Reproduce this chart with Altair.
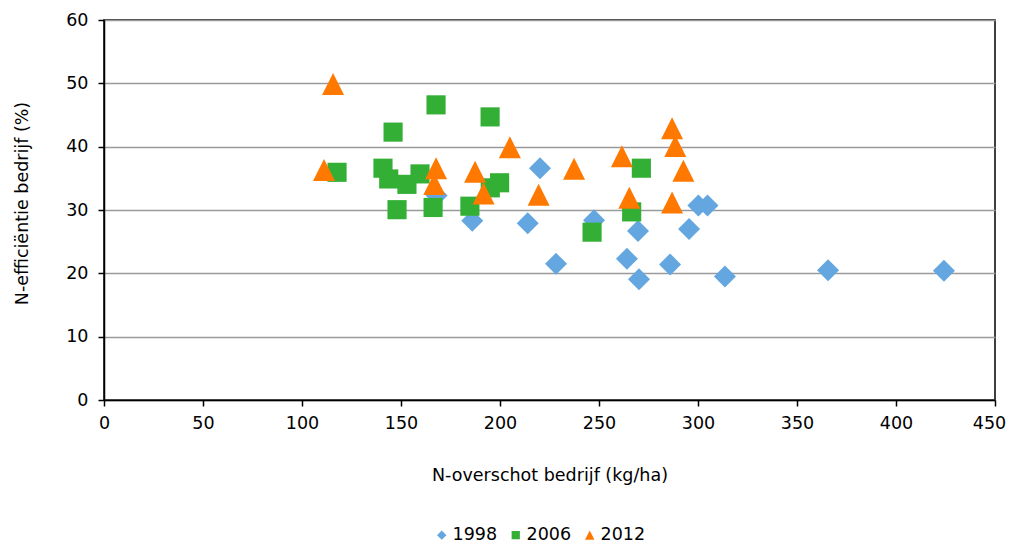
import altair as alt
import pandas as pd

# --- data ---
years = ["1998", "2006", "2012"]

x_1998 = [168.0, 186.0, 220.2, 214.0, 228.3, 247.5, 269.7, 264.1, 270.2, 285.9,
          295.5, 300.2, 304.8, 313.6, 365.7, 424.2]
y_1998 = [32.3, 28.3, 36.6, 27.9, 21.5, 28.4, 26.7, 22.3, 19.05, 21.4,
          27.0, 30.7, 30.7, 19.5, 20.5, 20.4]

x_2006 = [117.7, 146.0, 167.7, 195.0, 140.9, 143.8, 153.0, 159.6, 148.0, 166.2,
          184.8, 195.1, 199.8, 271.4, 266.5, 246.5]
y_2006 = [35.95, 42.3, 46.6, 44.7, 36.6, 34.9, 34.05, 35.7, 30.05, 30.4,
          30.6, 33.5, 34.3, 36.6, 29.7, 26.5]

x_2012 = [115.7, 111.1, 167.7, 166.8, 187.4, 191.7, 205.0, 219.5, 237.4, 261.6,
          265.3, 286.9, 288.5, 292.6, 286.9]
y_2012 = [49.9, 36.3, 36.6, 34.1, 36.05, 32.6, 39.9, 32.4, 36.5, 38.5,
          31.95, 42.9, 40.1, 36.2, 31.2]

x_ticks = [0, 50, 100, 150, 200, 250, 300, 350, 400, 450]
y_ticks = [0, 10, 20, 30, 40, 50, 60]

colors = ["#64A7E0", "#33AF35", "#FF7800"]
shapes = ["diamond", "M-0.87,-0.87L0.87,-0.87L0.87,0.87L-0.87,0.87Z", "M-1,1L1,1L0,-1Z"]

rows = []
for yr, xs, ys in zip(years, [x_1998, x_2006, x_2012], [y_1998, y_2006, y_2012]):
    for a, b in zip(xs, ys):
        rows.append({"jaar": yr, "x": a, "y": b})
df = pd.DataFrame(rows)

FONT = "DejaVu Sans"
FS = 17.5

legend = alt.Legend(
    title=None, orient="none", legendX=329, legendY=506, direction="horizontal",
    labelFontSize=FS, labelFont=FONT, labelColor="#000000",
    symbolSize=90, symbolStrokeWidth=0, labelOffset=2, columnPadding=9,
    symbolOpacity=1,
)

chart = alt.Chart(df).mark_point(filled=True, opacity=1, strokeWidth=0, size=484).encode(
    x=alt.X("x:Q",
            scale=alt.Scale(domain=[0, 450], nice=False, zero=True),
            axis=alt.Axis(title="N-overschot bedrijf (kg/ha)", values=x_ticks, grid=False,
                          labelPadding=8, tickSize=6, labelFlush=False,
                          labelOffset={"condition": {"test": "datum.value == 450", "value": -6},
                                       "value": 0},
                          titleY=75, titleBaseline="middle")),
    y=alt.Y("y:Q",
            scale=alt.Scale(domain=[0, 60], nice=False),
            axis=alt.Axis(title="N-efficiëntie bedrijf (%)", values=y_ticks, grid=True,
                          labelPadding=10, tickSize=6, labelFlush=False,
                          titleX=-82, titleY=183,
                          titleAngle=270, titleBaseline="middle", titleAlign="center")),
    color=alt.Color("jaar:N", scale=alt.Scale(domain=years, range=colors), legend=legend),
    shape=alt.Shape("jaar:N", scale=alt.Scale(domain=years, range=shapes), legend=legend),
).properties(
    width=891, height=380,
    autosize=alt.AutoSizeParams(type="none"),
    padding={"left": 96, "top": 12, "right": 11, "bottom": 143},
).configure_view(
    stroke="#000000", strokeWidth=1.5
).configure_axis(
    labelFont=FONT, labelFontSize=FS, labelColor="#000000",
    titleFont=FONT, titleFontSize=FS, titleColor="#000000", titleFontWeight="normal",
    domainColor="#000000", domainWidth=1.5, tickColor="#000000", tickWidth=1.5,
    gridColor="#9A9A9A", gridWidth=1.5,
)

chart.save("out.html", embed_options={"renderer": "svg", "actions": False})
